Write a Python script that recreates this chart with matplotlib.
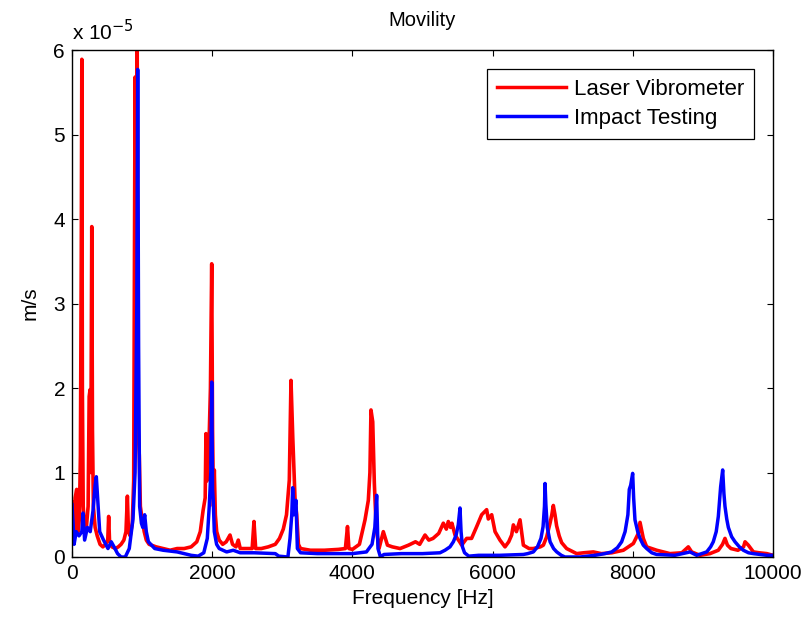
import matplotlib
matplotlib.use("Agg")
import matplotlib.pyplot as plt
from matplotlib.ticker import FuncFormatter

plt.rcParams['font.family'] = ['Liberation Sans', 'DejaVu Sans']

# Frequency response magnitudes, values in units of 1e-5 m/s
laser_freq = [0, 15, 30, 45, 67, 85, 105, 120, 132, 140, 148, 160, 180, 205, 230, 245, 258, 268,
              282, 292, 305, 330, 360, 400, 440, 480, 510, 523, 535, 570, 620, 660, 700, 740, 770,
              790, 805, 830, 860, 880, 900, 912, 930, 945, 960, 975, 1000, 1030, 1060, 1100, 1200,
              1300, 1400, 1500, 1600, 1700, 1780, 1830, 1870, 1900, 1911, 1925, 1950, 1975, 1993,
              2005, 2018, 2030, 2045, 2064, 2100, 2150, 2200, 2254, 2290, 2340, 2372, 2400, 2500,
              2570, 2596, 2620, 2700, 2800, 2900, 2960, 3014, 3060, 3100, 3124, 3150, 3181, 3205,
              3230, 3260, 3400, 3600, 3800, 3900, 3930, 3950, 4000, 4100, 4180, 4227, 4250, 4265,
              4290, 4313, 4340, 4380, 4441, 4500, 4570, 4680, 4800, 4900, 4960, 5036, 5090, 5150,
              5232, 5297, 5340, 5368, 5400, 5420, 5464, 5530, 5559, 5630, 5700, 5773, 5844, 5915,
              5939, 5987, 6035, 6105, 6177, 6230, 6272, 6296, 6340, 6391, 6439, 6520, 6581, 6680,
              6724, 6772, 6819, 6845, 6866, 6890, 6913, 6950, 6985, 7056, 7128, 7199, 7300, 7437,
              7550, 7700, 7865, 7936, 8008, 8079, 8103, 8150, 8198, 8340, 8530, 8700, 8792, 8840,
              8958, 9100, 9220, 9280, 9315, 9350, 9400, 9500, 9580, 9601, 9648, 9720, 9800, 9910,
              10000]
laser_mag = [0.55, 0.65, 0.25, 0.7, 0.8, 0.3, 0.45, 1.2, 3.5, 5.89, 2.0, 0.6, 0.3, 0.35, 0.6, 1.9,
             1.98, 1.0, 3.91, 1.5, 0.6, 0.35, 0.25, 0.15, 0.12, 0.15, 0.2, 0.48, 0.2, 0.12, 0.1,
             0.12, 0.15, 0.2, 0.3, 0.72, 0.3, 0.25, 0.4, 0.9, 5.68, 3.0, 6.05, 1.5, 1.2, 0.6, 0.45,
             0.3, 0.2, 0.15, 0.12, 0.1, 0.08, 0.1, 0.1, 0.12, 0.18, 0.3, 0.55, 0.7, 1.46, 0.9, 1.2,
             2.0, 3.47, 1.5, 0.6, 1.03, 0.5, 0.3, 0.2, 0.15, 0.18, 0.26, 0.15, 0.12, 0.2, 0.1, 0.1,
             0.1, 0.42, 0.1, 0.1, 0.12, 0.15, 0.22, 0.33, 0.5, 0.91, 2.09, 1.4, 0.7, 0.5, 0.15, 0.1,
             0.08, 0.08, 0.09, 0.1, 0.36, 0.1, 0.09, 0.15, 0.44, 0.67, 1.0, 1.74, 1.6, 0.87, 0.34,
             0.1, 0.3, 0.14, 0.12, 0.1, 0.14, 0.18, 0.15, 0.26, 0.2, 0.22, 0.28, 0.4, 0.33, 0.42,
             0.35, 0.4, 0.26, 0.18, 0.14, 0.22, 0.22, 0.36, 0.5, 0.56, 0.45, 0.5, 0.3, 0.2, 0.12,
             0.18, 0.26, 0.38, 0.3, 0.44, 0.14, 0.1, 0.1, 0.12, 0.14, 0.24, 0.4, 0.5, 0.61, 0.5,
             0.37, 0.25, 0.17, 0.1, 0.07, 0.04, 0.05, 0.06, 0.04, 0.05, 0.08, 0.12, 0.16, 0.28,
             0.41, 0.22, 0.12, 0.08, 0.04, 0.05, 0.12, 0.06, 0.02, 0.04, 0.08, 0.15, 0.22, 0.14,
             0.1, 0.08, 0.12, 0.18, 0.14, 0.06, 0.05, 0.04, 0.02]

impact_freq = [0, 15, 30, 60, 100, 140, 157, 180, 220, 260, 300, 330, 347, 365, 395, 450, 513, 560,
               600, 650, 700, 760, 817, 870, 900, 925, 937, 950, 965, 990, 1010, 1037, 1060, 1090,
               1180, 1300, 1500, 1600, 1700, 1800, 1880, 1930, 1958, 1980, 1993, 2005, 2015, 2030,
               2063, 2100, 2206, 2300, 2400, 2600, 2900, 2950, 3080, 3110, 3135, 3148, 3165, 3195,
               3215, 3260, 3500, 3800, 4000, 4200, 4280, 4320, 4346, 4365, 4400, 4450, 4700, 5000,
               5250, 5321, 5392, 5440, 5480, 5510, 5535, 5550, 5570, 5600, 5660, 5800, 6100, 6439,
               6500, 6581, 6640, 6690, 6720, 6740, 6748, 6760, 6780, 6820, 6870, 6915, 6980, 7033,
               7250, 7461, 7600, 7700, 7780, 7841, 7890, 7930, 7950, 7970, 7998, 8012, 8031, 8070,
               8103, 8150, 8198, 8270, 8340, 8600, 8816, 8911, 9054, 9110, 9148, 9190, 9220, 9253,
               9282, 9300, 9315, 9340, 9363, 9410, 9458, 9520, 9577, 9650, 9720, 9910, 10000]
impact_mag = [0.62, 0.4, 0.15, 0.3, 0.25, 0.3, 0.52, 0.2, 0.35, 0.3, 0.55, 0.85, 0.95, 0.7, 0.3,
              0.2, 0.1, 0.18, 0.12, 0.04, 0.0, 0.0, 0.1, 0.45, 1.0, 3.0, 5.77, 2.5, 0.6, 0.4, 0.35,
              0.5, 0.3, 0.18, 0.1, 0.08, 0.06, 0.04, 0.02, 0.01, 0.05, 0.22, 0.6, 1.0, 2.07, 0.8,
              0.67, 0.3, 0.15, 0.1, 0.06, 0.08, 0.05, 0.05, 0.04, 0.01, 0.0, 0.22, 0.5, 0.82, 0.5,
              0.67, 0.1, 0.05, 0.04, 0.04, 0.04, 0.06, 0.15, 0.35, 0.73, 0.1, 0.0, 0.03, 0.04, 0.04,
              0.05, 0.08, 0.12, 0.18, 0.26, 0.38, 0.58, 0.3, 0.12, 0.05, 0.01, 0.02, 0.02, 0.03,
              0.04, 0.06, 0.12, 0.22, 0.36, 0.6, 0.87, 0.62, 0.35, 0.18, 0.1, 0.06, 0.02, 0.0,
              0.0, 0.02, 0.04, 0.06, 0.11, 0.18, 0.3, 0.5, 0.8, 0.85, 0.99, 0.7, 0.44, 0.3,
              0.22, 0.14, 0.1, 0.05, 0.03, 0.02, 0.06, 0.02, 0.06, 0.12, 0.18, 0.3, 0.48, 0.83,
              1.03, 0.75, 0.6, 0.45, 0.35, 0.24, 0.18, 0.12, 0.08, 0.05, 0.04, 0.02, 0.02]

series_labels = ["Laser Vibrometer", "Impact Testing"]
x_ticks = [0, 2000, 4000, 6000, 8000, 10000]
y_ticks = [0, 1, 2, 3, 4, 5, 6]
SCALE = 1e-5

fig = plt.figure(figsize=(8.07, 6.18), dpi=100)
ax = fig.add_axes([72 / 807, 61 / 618, 701 / 807, 507 / 618])

ax.plot(laser_freq, [v * SCALE for v in laser_mag], color='#ff0000', lw=2.6,
        label=series_labels[0])
ax.plot(impact_freq, [v * SCALE for v in impact_mag], color='#0000ff', lw=2.5,
        label=series_labels[1])

ax.set_xlim(0, 10000)
ax.set_ylim(0, 6 * SCALE)
ax.set_xticks(x_ticks)
ax.set_yticks([t * SCALE for t in y_ticks])
ax.yaxis.set_major_formatter(FuncFormatter(lambda v, p: f"{v / SCALE:g}"))
ax.tick_params(direction='in', top=True, right=True, length=4.5, width=0.8,
               labelsize=15, pad=5)
for s in ax.spines.values():
    s.set_linewidth(1.0)

ax.text(0, 1.012, r"x 10$^{-5}$", transform=ax.transAxes, fontsize=15,
        ha='left', va='bottom')
ax.set_title("Movility", fontsize=14.5, pad=17)
ax.set_xlabel("Frequency [Hz]", fontsize=15, labelpad=4)
ax.set_ylabel("m/s", fontsize=15, labelpad=10)

leg = ax.legend(loc='upper right', bbox_to_anchor=((754 - 72) / 701, (557 - 69) / 507),
                borderaxespad=0, fontsize=16, fancybox=False, framealpha=1,
                edgecolor='black', handlelength=3.1, handletextpad=0.35,
                borderpad=0.45, labelspacing=0.35)
leg.get_frame().set_linewidth(0.9)
for h in leg.get_lines():
    h.set_linewidth(2.5)

fig.savefig("out.png", dpi=100)
